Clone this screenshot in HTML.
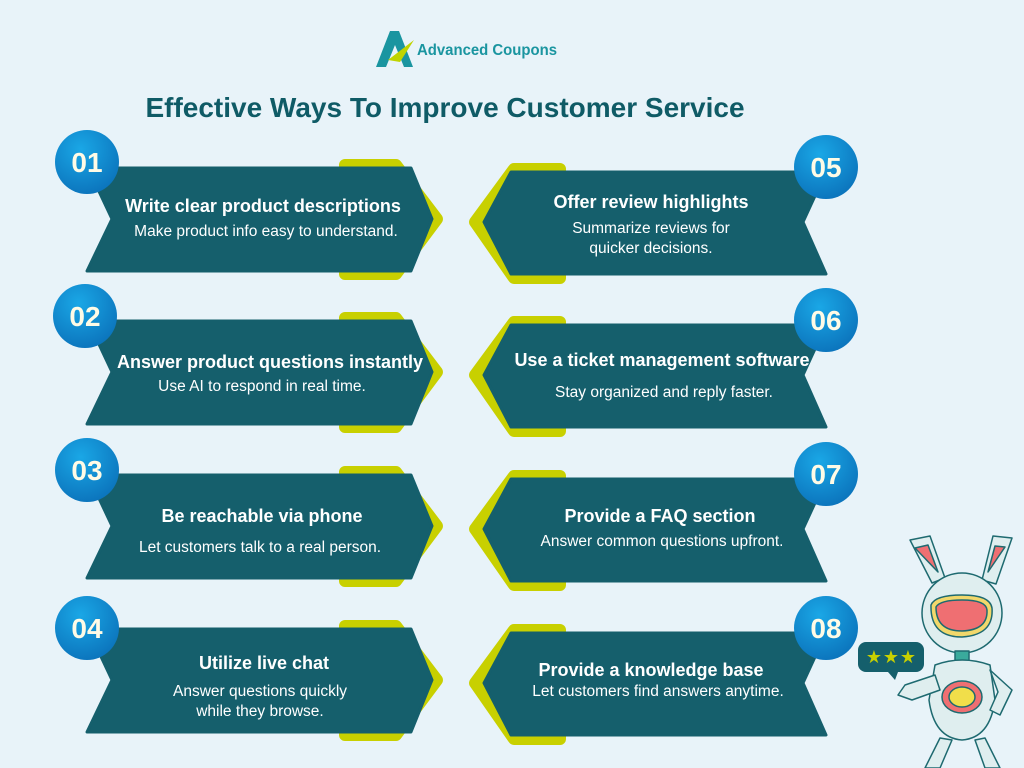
<!DOCTYPE html>
<html><head><meta charset="utf-8"><style>
html,body{margin:0;padding:0;background:#e8f3f9;}
svg{display:block;}
text{font-family:"Liberation Sans",sans-serif;}
</style></head><body>
<svg width="1024" height="768" viewBox="0 0 1024 768" xmlns="http://www.w3.org/2000/svg">
<defs>
<radialGradient id="cg" cx="0.4" cy="0.3" r="0.8">
<stop offset="0" stop-color="#1aa7e6"/><stop offset="1" stop-color="#0a6fb8"/>
</radialGradient>
<g id="L">
<path d="M345,165 L396,165 L437,219 L396,274 L345,274 Z" fill="#c8d000" stroke="#c8d000" stroke-width="12" stroke-linejoin="round"/>
<path d="M88,168 L411,168 L432,219 L411,271 L87,271 L112,219 Z" fill="#155f6c" stroke="#155f6c" stroke-width="3" stroke-linejoin="round"/>
</g>
<g id="R">
<path d="M514,169 L560,169 L560,278 L514,278 L475,222 Z" fill="#c8d000" stroke="#c8d000" stroke-width="12" stroke-linejoin="round"/>
<path d="M511,172 L826,172 L803,222 L826,274 L511,274 L484,222 Z" fill="#155f6c" stroke="#155f6c" stroke-width="3" stroke-linejoin="round"/>
</g>
</defs>
<!-- logo -->
<path d="M376,67 L390,31 L399,31 L413,67 L404,67 L395,45 L386,67 Z" fill="#1a95a0"/>
<path d="M388,60 L414,40 L400,62 Z" fill="#c0d400"/>
<text x="417" y="55" font-size="16" fill="#1a95a0" font-weight="bold" textLength="140" lengthAdjust="spacingAndGlyphs">Advanced Coupons</text>
<text x="445" y="117" font-size="28" font-weight="bold" fill="#0f5b66" text-anchor="middle">Effective Ways To Improve Customer Service</text>

<use href="#L"/>
<use href="#L" y="153"/>
<use href="#L" y="307"/>
<use href="#L" y="461"/>
<use href="#R"/>
<use href="#R" y="153"/>
<use href="#R" y="307"/>
<use href="#R" y="461"/>

<g fill="#fff" text-anchor="middle" font-size="15.5">
<text x="263" y="212" font-weight="bold" font-size="18">Write clear product descriptions</text>
<text x="266" y="236">Make product info easy to understand.</text>
<text x="270" y="368" font-weight="bold" font-size="18">Answer product questions instantly</text>
<text x="262" y="391">Use AI to respond in real time.</text>
<text x="262" y="522" font-weight="bold" font-size="18">Be reachable via phone</text>
<text x="260" y="552">Let customers talk to a real person.</text>
<text x="264" y="669" font-weight="bold" font-size="18">Utilize live chat</text>
<text x="260" y="696">Answer questions quickly</text>
<text x="260" y="716">while they browse.</text>

<text x="651" y="208" font-weight="bold" font-size="18">Offer review highlights</text>
<text x="651" y="233">Summarize reviews for</text>
<text x="651" y="253">quicker decisions.</text>
<text x="662" y="366" font-weight="bold" font-size="18">Use a ticket management software</text>
<text x="664" y="397">Stay organized and reply faster.</text>
<text x="660" y="522" font-weight="bold" font-size="18">Provide a FAQ section</text>
<text x="662" y="546">Answer common questions upfront.</text>
<text x="651" y="676" font-weight="bold" font-size="18">Provide a knowledge base</text>
<text x="658" y="696">Let customers find answers anytime.</text>
</g>

<g font-size="28" font-weight="bold" fill="#fffbe6" text-anchor="middle">
<circle cx="87" cy="162" r="32" fill="url(#cg)"/><text x="87" y="172">01</text>
<circle cx="85" cy="316" r="32" fill="url(#cg)"/><text x="85" y="326">02</text>
<circle cx="87" cy="470" r="32" fill="url(#cg)"/><text x="87" y="480">03</text>
<circle cx="87" cy="628" r="32" fill="url(#cg)"/><text x="87" y="638">04</text>
<circle cx="826" cy="167" r="32" fill="url(#cg)"/><text x="826" y="177">05</text>
<circle cx="826" cy="320" r="32" fill="url(#cg)"/><text x="826" y="330">06</text>
<circle cx="826" cy="474" r="32" fill="url(#cg)"/><text x="826" y="484">07</text>
<circle cx="826" cy="628" r="32" fill="url(#cg)"/><text x="826" y="638">08</text>
</g>

<!-- robot -->
<g stroke="#1e6a70" stroke-width="1.5" stroke-linejoin="round">
<path d="M910,540 L930,536 L945,578 L932,583 Z" fill="#dfeeef"/>
<path d="M915,548 L928,545 L938,572 Z" fill="#ef6f72"/>
<path d="M1012,538 L993,536 L982,580 L996,584 Z" fill="#dfeeef"/>
<path d="M1005,547 L995,546 L988,572 Z" fill="#ef6f72"/>
<circle cx="962" cy="613" r="40" fill="#dfeeef"/>
<path d="M931,605 Q935,595 962,595 Q990,595 992,608 Q994,635 962,637 Q930,637 931,605 Z" fill="#f1d86b"/>
<path d="M936,607 Q940,600 962,600 Q986,600 987,610 Q988,630 962,631 Q936,631 936,607 Z" fill="#ef6f72"/>
<rect x="955" y="651" width="14" height="10" fill="#3aaa9c"/>
<path d="M935,665 Q962,655 990,665 L995,700 Q990,738 962,740 Q934,738 929,700 Z" fill="#dfeeef"/>
<ellipse cx="962" cy="697" rx="20" ry="16" fill="#ef6f72"/>
<ellipse cx="962" cy="697" rx="13" ry="10" fill="#f1de4a"/>
<path d="M935,675 L905,685 L898,695 L912,700 L940,690 Z" fill="#dfeeef"/>
<path d="M990,670 L1012,690 L1000,715 L990,710 L998,692 Z" fill="#dfeeef"/>
<path d="M940,738 L925,768 L940,768 L952,740 Z M975,740 L985,768 L1000,768 L985,738 Z" fill="#dfeeef"/>
</g>
<rect x="858" y="642" width="66" height="30" rx="8" fill="#155f6c"/>
<path d="M888,672 L895,680 L898,672 Z" fill="#155f6c"/>
<g fill="#c8d000" font-size="18" text-anchor="middle"><text x="874" y="663">★</text><text x="891" y="663">★</text><text x="908" y="663">★</text></g>
</svg>
</body></html>
